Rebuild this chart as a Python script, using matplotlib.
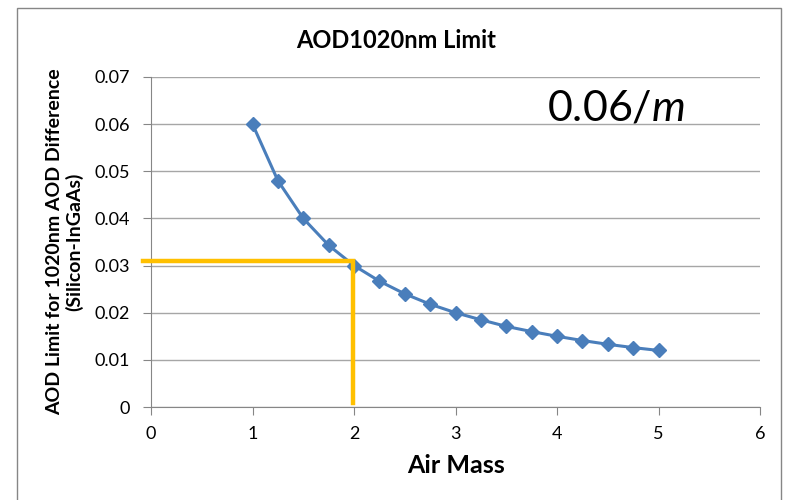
import matplotlib
matplotlib.use('Agg')
import matplotlib.pyplot as plt
from matplotlib.patches import Rectangle

plt.rcParams['font.family'] = ['Lato', 'DejaVu Sans']
plt.rcParams['mathtext.fontset'] = 'custom'
plt.rcParams['mathtext.rm'] = 'Lato'
plt.rcParams['mathtext.it'] = 'Lato:italic'

# data
air_mass = [1, 1.25, 1.5, 1.75, 2, 2.25, 2.5, 2.75, 3, 3.25, 3.5, 3.75, 4, 4.25, 4.5, 4.75, 5]
aod_limit = [0.06, 0.048, 0.04, 0.0343, 0.03, 0.0267, 0.024, 0.0218, 0.02,
             0.0185, 0.0171, 0.016, 0.015, 0.0141, 0.0133, 0.0126, 0.012]
x_ticks = [0, 1, 2, 3, 4, 5, 6]
y_ticks = [0, 0.01, 0.02, 0.03, 0.04, 0.05, 0.06, 0.07]
y_tick_labels = ['0', '0.01', '0.02', '0.03', '0.04', '0.05', '0.06', '0.07']
# orange guide at air mass 2
guide_x = [-0.08, 1.99, 1.99]
guide_y = [0.031, 0.031, 0.0008]

fig = plt.figure(figsize=(7.85, 5), dpi=100)
ax = fig.add_axes([0.1924, 0.186, 0.7758, 0.66])

# chart border
fig.patches.append(Rectangle((0.0217, -0.05), 0.9733, 1.034, transform=fig.transFigure,
                             fill=False, edgecolor='#868686', lw=1.0))

ax.plot(air_mass, aod_limit, color='#4A7EBB', lw=2.2, marker='D', ms=7,
        mfc='#4A7EBB', mec='#4A7EBB', zorder=3)
ax.plot(guide_x, guide_y, color='#FFC000', lw=3.2, clip_on=False, zorder=4,
        solid_joinstyle='miter')

ax.set_xlim(0, 6)
ax.set_ylim(0, 0.07)
ax.set_xticks(x_ticks)
ax.set_yticks(y_ticks)
ax.set_yticklabels(y_tick_labels)
ax.yaxis.grid(True, color='#A6A6A6', lw=1.0)
ax.set_axisbelow(True)
for s in ['top', 'right']:
    ax.spines[s].set_visible(False)
for s in ['left', 'bottom']:
    ax.spines[s].set_color('#868686')
ax.tick_params(axis='both', colors='#868686', length=6, labelsize=13, labelcolor='black')
ax.tick_params(axis='y', pad=9)
ax.tick_params(axis='x', pad=8)

fig.text(0.505, 0.92, 'AOD1020nm Limit', fontsize=17, fontweight='bold',
         ha='center', va='center')
ax.set_xlabel('Air Mass', fontsize=18, fontweight='bold', labelpad=8)
ax.set_ylabel('AOD Limit for 1020nm AOD Difference\n(Silicon-InGaAs)', fontsize=14,
              fontweight='bold', labelpad=8, linespacing=1.15)

ax.text(0.764, 0.906, r'0.06/$\mathit{m}$', transform=ax.transAxes, fontsize=31,
        ha='center', va='center')

fig.savefig('out.png', dpi=100)
